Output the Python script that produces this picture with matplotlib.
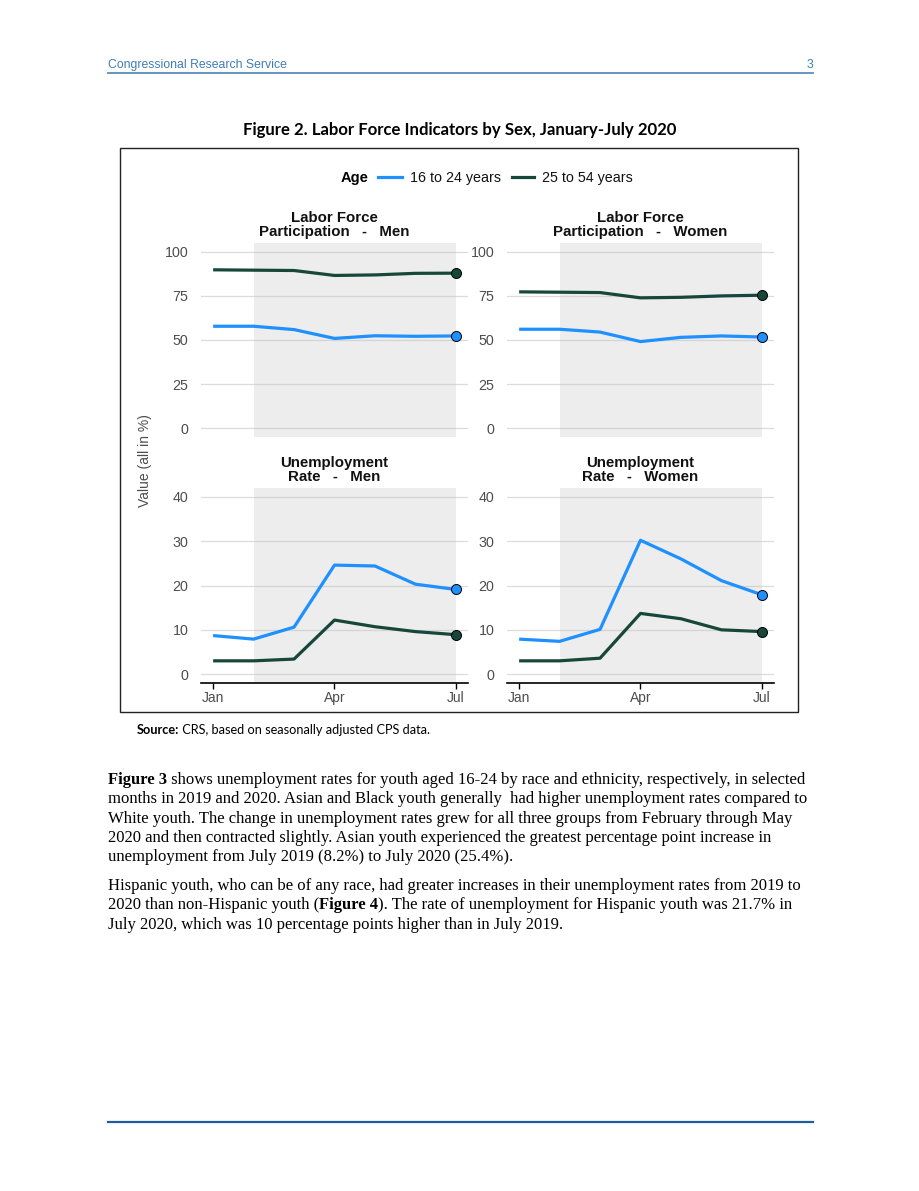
import matplotlib
matplotlib.use("Agg")
import matplotlib.pyplot as plt
from matplotlib.lines import Line2D
from matplotlib.patches import Rectangle

# ---------------- data ----------------
months = ['Jan', 'Feb', 'Mar', 'Apr', 'May', 'Jun', 'Jul']
tick_months = ['Jan', 'Apr', 'Jul']
age_groups = ['16 to 24 years', '25 to 54 years']

lfp_men_16_24 = [57.8, 57.8, 55.9, 50.9, 52.4, 52.1, 52.3]
lfp_men_25_54 = [89.8, 89.6, 89.4, 86.6, 86.9, 87.8, 87.9]
lfp_women_16_24 = [56.1, 56.1, 54.5, 49.1, 51.5, 52.3, 51.7]
lfp_women_25_54 = [77.3, 77.1, 76.9, 73.9, 74.2, 75.0, 75.4]
ur_men_16_24 = [8.7, 7.9, 10.6, 24.6, 24.4, 20.3, 19.1]
ur_men_25_54 = [3.0, 3.0, 3.4, 12.2, 10.7, 9.6, 8.9]
ur_women_16_24 = [7.9, 7.4, 10.1, 30.2, 26.0, 21.1, 17.9]
ur_women_25_54 = [3.0, 3.0, 3.6, 13.7, 12.5, 10.0, 9.6]

lfp_ticks = [0, 25, 50, 75, 100]
ur_ticks = [0, 10, 20, 30, 40]

shade_start, shade_end = 'Feb', 'Jul'

panel_titles = ['Labor Force\nParticipation   -   Men', 'Labor Force\nParticipation   -   Women',
                'Unemployment\nRate   -   Men', 'Unemployment\nRate   -   Women']

body_lines_p1 = [
    [("Figure 3", "bold"), (" shows unemployment rates for youth aged 16-24 by race and ethnicity, respectively, in selected", "normal")],
    [("months in 2019 and 2020. Asian and Black youth generally  had higher unemployment rates compared to", "normal")],
    [("White youth. The change in unemployment rates grew for all three groups from February through May", "normal")],
    [("2020 and then contracted slightly. Asian youth experienced the greatest percentage point increase in", "normal")],
    [("unemployment from July 2019 (8.2%) to July 2020 (25.4%).", "normal")],
]
body_lines_p2 = [
    [("Hispanic youth, who can be of any race, had greater increases in their unemployment rates from 2019 to", "normal")],
    [("2020 than non-Hispanic youth (", "normal"), ("Figure 4", "bold"), ("). The rate of unemployment for Hispanic youth was 21.7% in", "normal")],
    [("July 2020, which was 10 percentage points higher than in July 2019.", "normal")],
]

# ---------------- layout ----------------
W, H = 920, 1191
fig = plt.figure(figsize=(W / 100, H / 100), dpi=100)
fig.patch.set_facecolor('white')

def rect(x0, y0, x1, y1):
    return [x0 / W, 1 - y1 / H, (x1 - x0) / W, (y1 - y0) / H]

def fx(x):
    return x / W

def fy(y):
    return 1 - y / H

BLUE = '#1E90FF'
DARK = '#17473A'
GRAY = '#4D4D4D'
SANS = 'Liberation Sans'

# header
fig.text(fx(108), fy(65), 'Congressional Research Service', fontsize=8.8, family=SANS,
         color='#3F7CB6', va='center', ha='left')
fig.text(fx(813), fy(65), '3', fontsize=8.8, family=SANS, color='#3F7CB6', va='center', ha='right')
fig.add_artist(Line2D([fx(108), fx(813)], [fy(73), fy(73)], color='#5A8DBA', lw=1.3))

# figure title
fig.text(fx(460), fy(130), 'Figure 2. Labor Force Indicators by Sex, January-July 2020',
         fontsize=12.1, family='Lato', weight='bold', color='black', ha='center', va='center')

# chart box
fig.add_artist(Rectangle((fx(120), fy(712)), (798 - 120) / W, (712 - 148) / H,
                         fill=False, edgecolor='#222222', lw=1.0, transform=fig.transFigure))

# legend
fig.text(fx(341), fy(178), 'Age', fontsize=10.5, family=SANS, weight='bold', ha='left', va='center')
fig.add_artist(Line2D([fx(378), fx(402)], [fy(177), fy(177)], color=BLUE, lw=2.3))
fig.text(fx(410), fy(178), age_groups[0], fontsize=10.3, family=SANS, ha='left', va='center', color='#111111')
fig.add_artist(Line2D([fx(512), fx(534)], [fy(177), fy(177)], color=DARK, lw=2.3))
fig.text(fx(542), fy(178), age_groups[1], fontsize=10.3, family=SANS, ha='left', va='center', color='#111111')

# y label
fig.text(fx(145), fy(461), 'Value (all in %)', fontsize=10, family=SANS, color=GRAY,
         rotation=90, ha='center', va='center')

panels = [
    (rect(201, 243, 468, 437), lfp_men_16_24, lfp_men_25_54, lfp_ticks, (-5, 105), False, panel_titles[0]),
    (rect(507, 243, 774, 437), lfp_women_16_24, lfp_women_25_54, lfp_ticks, (-5, 105), False, panel_titles[1]),
    (rect(201, 488, 468, 683), ur_men_16_24, ur_men_25_54, ur_ticks, (-2, 42), True, panel_titles[2]),
    (rect(507, 488, 774, 683), ur_women_16_24, ur_women_25_54, ur_ticks, (-2, 42), True, panel_titles[3]),
]

xi = list(range(len(months)))
for r, s1, s2, yt, yl, bottom, title in panels:
    ax = fig.add_axes(r)
    ax.set_facecolor('white')
    for sp in ax.spines.values():
        sp.set_visible(False)
    ax.set_xlim(-0.3, len(months) - 1 + 0.3)
    ax.set_ylim(*yl)
    for t in yt:
        ax.axhline(t, color='#DCDCDC', lw=0.9, zorder=1)
    ax.axvspan(months.index(shade_start), months.index(shade_end), color='#C4C4C4',
               alpha=0.3, lw=0, zorder=2)
    ax.plot(xi, s1, color=BLUE, lw=2.3, zorder=3, solid_capstyle='butt')
    ax.plot(xi, s2, color=DARK, lw=2.3, zorder=3, solid_capstyle='butt')
    ax.plot([xi[-1]], [s1[-1]], 'o', ms=7.2, mfc=BLUE, mec='black', mew=0.7, zorder=4)
    ax.plot([xi[-1]], [s2[-1]], 'o', ms=7.2, mfc=DARK, mec='black', mew=0.7, zorder=4)
    ax.set_yticks(yt)
    ax.set_yticklabels([str(t) for t in yt], fontsize=10.3, family=SANS, color=GRAY)
    ax.tick_params(axis='y', length=0, pad=9)
    if bottom:
        ax.spines['bottom'].set_visible(True)
        ax.spines['bottom'].set_color('black')
        ax.spines['bottom'].set_linewidth(1.2)
        ax.set_xticks([months.index(m) for m in tick_months])
        ax.set_xticklabels(tick_months, fontsize=10, family=SANS, color=GRAY)
        ax.tick_params(axis='x', length=4, width=1, color='black', pad=2)
    else:
        ax.set_xticks([])
    ax.set_title(title, fontsize=10.8, family=SANS, weight='bold', color='#111111',
                 pad=5, linespacing=1.0)

# source and body text
fig.canvas.draw()
renderer = fig.canvas.get_renderer()

def draw_pieces(x, y, pieces, **kw):
    cx = x
    for txt, wt in pieces:
        t = fig.text(fx(cx), fy(y), txt, weight=wt, ha='left', va='baseline', **kw)
        bb = t.get_window_extent(renderer=renderer)
        cx += bb.width
    return cx

draw_pieces(137, 734, [("Source:", "bold"), (" CRS, based on seasonally adjusted CPS data.", "normal")],
            fontsize=9.2, family='Lato', color='black')

serif_kw = dict(fontsize=12.0, family='Liberation Serif', color='black')
y0 = 784
for i, line in enumerate(body_lines_p1):
    draw_pieces(108, y0 + i * 19.3, line, **serif_kw)
y1 = 890
for i, line in enumerate(body_lines_p2):
    draw_pieces(108, y1 + i * 19.3, line, **serif_kw)

# footer line
fig.add_artist(Line2D([fx(108), fx(813)], [fy(1122), fy(1122)], color='#1F5C9E', lw=1.6))

fig.savefig('out.png', dpi=100, facecolor='white')
